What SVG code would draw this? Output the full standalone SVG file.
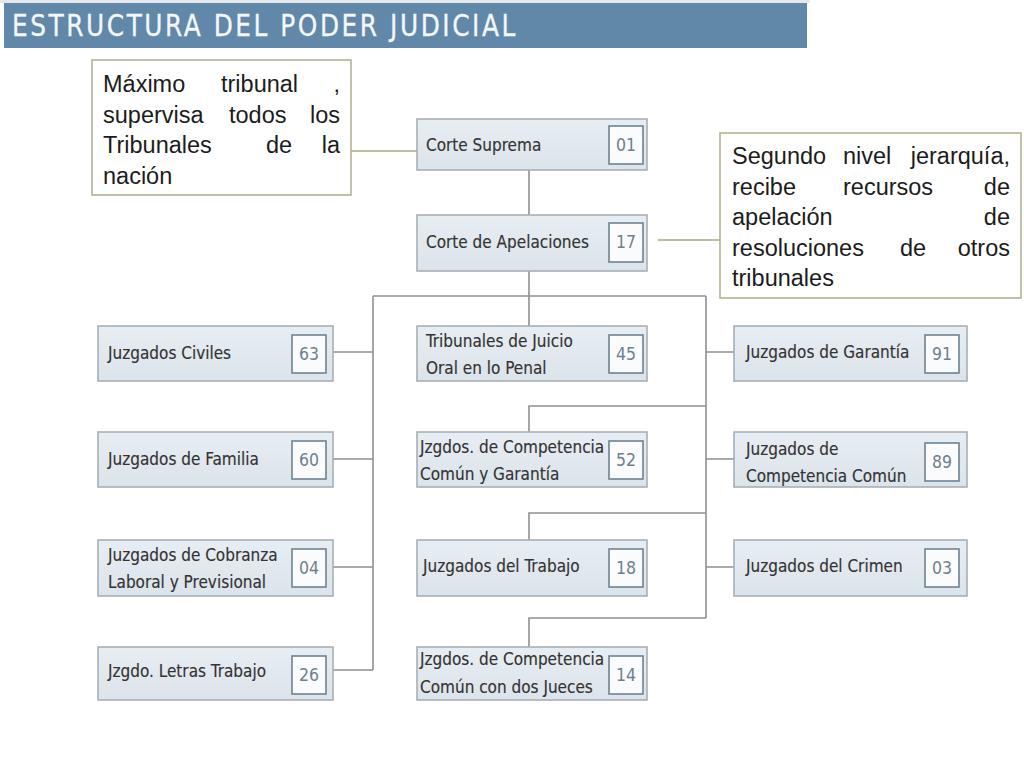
<svg xmlns="http://www.w3.org/2000/svg" width="1024" height="768" viewBox="0 0 1024 768">
<defs>
<linearGradient id="boxg" x1="0" y1="0" x2="0" y2="1">
<stop offset="0" stop-color="#e7eef3"/>
<stop offset="1" stop-color="#dbe4ea"/>
</linearGradient>
</defs>
<style>
.box{fill:url(#boxg);stroke:#a7b0b7;stroke-width:1.6}
.num{fill:#f9fbfc;stroke:#6d8394;stroke-width:1.6}
.t{font-family:"DejaVu Sans Condensed","DejaVu Sans",sans-serif;font-size:17px;fill:#333333;stroke:#333333;stroke-width:0.15}
.n{font-family:"DejaVu Sans Condensed","DejaVu Sans",sans-serif;font-size:17.5px;fill:#6f7f8c;text-anchor:middle}
.con{fill:none;stroke:#8c9195;stroke-width:1.6}
.cc{fill:none;stroke:#aaa883;stroke-width:1.6}
.cbox{fill:#ffffff;stroke:#b4b293;stroke-width:1.6}
.c{font-family:"Liberation Sans",Arial,sans-serif;font-size:23.5px;fill:#1c1c1c}
.e{text-anchor:end}
</style>
<rect x="0" y="0" width="1024" height="768" fill="#ffffff"/>
<rect x="0" y="0" width="810" height="3" fill="#e4e8ec"/>
<g id="header">
<rect x="4" y="3" width="803" height="45" fill="#6188a8"/>
<text transform="translate(12,36) scale(0.92,1)" x="0" y="0" font-family="'DejaVu Sans Condensed','DejaVu Sans',sans-serif" font-size="30" fill="#f4f7fa" stroke="#f4f7fa" stroke-width="0.3" textLength="547" lengthAdjust="spacing">ESTRUCTURA DEL PODER JUDICIAL</text>
</g>
<g id="connectors">
<path class="con" d="M529,170V215M529,271V326M373,296H706M373,296V670M333,352H373M333,459H373M333,567H373M333,670H373M706,296V618M706,352H734M706,459H734M706,567H734M706,406H529V432M706,513H529V540M706,618H529V647"/>
<path class="cc" d="M351,151H417M658,240H720"/>
</g>
<g id="callout-left">
<rect class="cbox" x="92" y="60" width="259" height="135"/>
<text class="c" x="103" y="92">Máximo</text>
<text class="c" x="221" y="92">tribunal</text>
<text class="c e" x="340" y="92">,</text>
<text class="c" x="103" y="123">supervisa</text>
<text class="c" x="229" y="123">todos</text>
<text class="c e" x="340" y="123">los</text>
<text class="c" x="103" y="153">Tribunales</text>
<text class="c" x="266" y="153">de</text>
<text class="c e" x="340" y="153">la</text>
<text class="c" x="103" y="184">nación</text>
</g>
<g id="callout-right">
<rect class="cbox" x="720" y="133" width="301" height="165"/>
<text class="c" x="732" y="164">Segundo</text>
<text class="c" x="843" y="164">nivel</text>
<text class="c e" x="1010" y="164">jerarquía,</text>
<text class="c" x="732" y="195">recibe</text>
<text class="c" x="843" y="195">recursos</text>
<text class="c e" x="1010" y="195">de</text>
<text class="c" x="732" y="225">apelación</text>
<text class="c e" x="1010" y="225">de</text>
<text class="c" x="732" y="256">resoluciones</text>
<text class="c" x="900" y="256">de</text>
<text class="c e" x="1010" y="256">otros</text>
<text class="c" x="732" y="286">tribunales</text>
</g>
<g id="corte-suprema">
<rect class="box" x="417" y="119" width="230" height="51"/>
<rect class="num" x="609" y="126" width="34" height="38"/>
<text class="t" x="426" y="151">Corte Suprema</text>
<text class="n" x="626" y="151">01</text>
</g>
<g id="corte-apelaciones">
<rect class="box" x="417" y="215" width="230" height="56"/>
<rect class="num" x="609" y="223" width="34" height="39"/>
<text class="t" x="426" y="248">Corte de Apelaciones</text>
<text class="n" x="626" y="248">17</text>
</g>
<g id="juzgados-civiles">
<rect class="box" x="98" y="326" width="235" height="55"/>
<rect class="num" x="292" y="335" width="34" height="38"/>
<text class="t" x="108" y="359">Juzgados Civiles</text>
<text class="n" x="309" y="360">63</text>
</g>
<g id="tribunales-juicio-oral">
<rect class="box" x="417" y="326" width="230" height="55"/>
<rect class="num" x="609" y="335" width="34" height="38"/>
<text class="t" x="426" y="347">Tribunales de Juicio</text>
<text class="t" x="426" y="374">Oral en lo Penal</text>
<text class="n" x="626" y="360">45</text>
</g>
<g id="juzgados-garantia">
<rect class="box" x="734" y="326" width="233" height="55"/>
<rect class="num" x="925" y="335" width="34" height="38"/>
<text class="t" x="746" y="358">Juzgados de Garantía</text>
<text class="n" x="942" y="360">91</text>
</g>
<g id="juzgados-familia">
<rect class="box" x="98" y="432" width="235" height="55"/>
<rect class="num" x="292" y="441" width="34" height="38"/>
<text class="t" x="108" y="465">Juzgados de Familia</text>
<text class="n" x="309" y="466">60</text>
</g>
<g id="competencia-comun-garantia">
<rect class="box" x="417" y="432" width="230" height="55"/>
<rect class="num" x="609" y="441" width="34" height="38"/>
<text class="t" x="420" y="453">Jzgdos. de Competencia</text>
<text class="t" x="420" y="480">Común y Garantía</text>
<text class="n" x="626" y="466">52</text>
</g>
<g id="competencia-comun">
<rect class="box" x="734" y="432" width="233" height="55"/>
<rect class="num" x="925" y="443" width="34" height="38"/>
<text class="t" x="746" y="455">Juzgados de</text>
<text class="t" x="746" y="482">Competencia Común</text>
<text class="n" x="942" y="468">89</text>
</g>
<g id="cobranza-laboral">
<rect class="box" x="98" y="540" width="235" height="56"/>
<rect class="num" x="292" y="549" width="34" height="38"/>
<text class="t" x="108" y="561">Juzgados de Cobranza</text>
<text class="t" x="108" y="588">Laboral y Previsional</text>
<text class="n" x="309" y="574">04</text>
</g>
<g id="juzgados-trabajo">
<rect class="box" x="417" y="540" width="230" height="56"/>
<rect class="num" x="609" y="549" width="34" height="38"/>
<text class="t" x="423" y="572">Juzgados del Trabajo</text>
<text class="n" x="626" y="574">18</text>
</g>
<g id="juzgados-crimen">
<rect class="box" x="734" y="540" width="233" height="56"/>
<rect class="num" x="925" y="549" width="34" height="38"/>
<text class="t" x="746" y="572">Juzgados del Crimen</text>
<text class="n" x="942" y="574">03</text>
</g>
<g id="letras-trabajo">
<rect class="box" x="98" y="647" width="235" height="53"/>
<rect class="num" x="292" y="656" width="34" height="38"/>
<text class="t" x="108" y="677">Jzgdo. Letras Trabajo</text>
<text class="n" x="309" y="681">26</text>
</g>
<g id="competencia-dos-jueces">
<rect class="box" x="417" y="647" width="230" height="53"/>
<rect class="num" x="609" y="656" width="34" height="38"/>
<text class="t" x="420" y="665">Jzgdos. de Competencia</text>
<text class="t" x="420" y="693">Común con dos Jueces</text>
<text class="n" x="626" y="681">14</text>
</g>
</svg>
